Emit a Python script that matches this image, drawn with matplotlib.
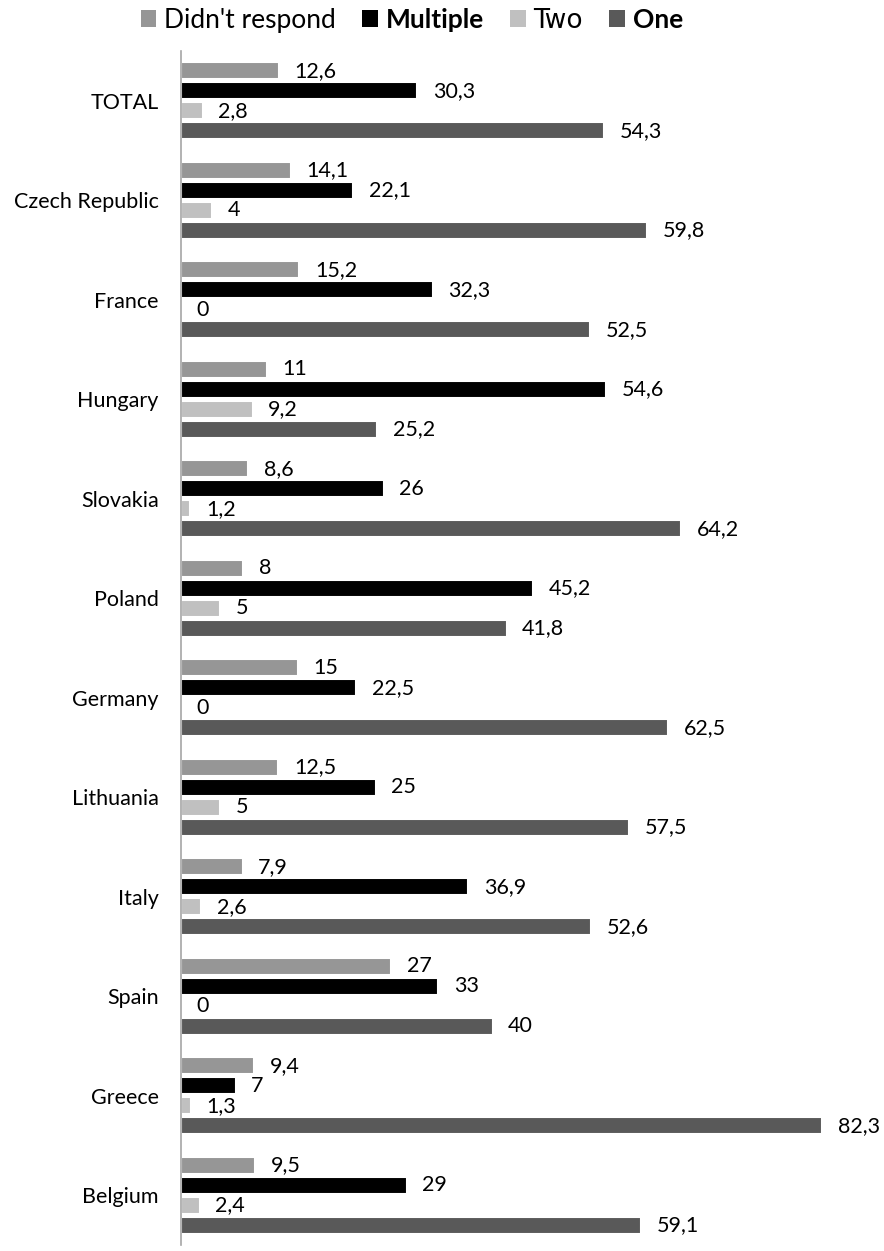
import matplotlib
matplotlib.use("Agg")
import matplotlib.pyplot as plt
from matplotlib.patches import Patch
import numpy as np

plt.rcParams['font.family'] = ['Lato', 'DejaVu Sans']

countries = ["TOTAL", "Czech Republic", "France", "Hungary", "Slovakia", "Poland",
             "Germany", "Lithuania", "Italy", "Spain", "Greece", "Belgium"]
didnt_respond = [12.6, 14.1, 15.2, 11, 8.6, 8, 15, 12.5, 7.9, 27, 9.4, 9.5]
multiple = [30.3, 22.1, 32.3, 54.6, 26, 45.2, 22.5, 25, 36.9, 33, 7, 29]
two = [2.8, 4, 0, 9.2, 1.2, 5, 0, 5, 2.6, 0, 1.3, 2.4]
one = [54.3, 59.8, 52.5, 25.2, 64.2, 41.8, 62.5, 57.5, 52.6, 40, 82.3, 59.1]

series = [("Didn't respond", didnt_respond, "#969696"),
          ("Multiple", multiple, "#000000"),
          ("Two", two, "#c0c0c0"),
          ("One", one, "#595959")]

fig = plt.figure(figsize=(8.84, 12.51), dpi=100)
ax = fig.add_axes([181 / 884, 6 / 1251, 679 / 884, 1194 / 1251])

y = np.arange(len(countries))
offsets = [-0.3, -0.1, 0.1, 0.3]
for (name, vals, col), off in zip(series, offsets):
    ax.barh(y + off, vals, height=0.17, color=col, edgecolor="white", linewidth=1.5)
    for yi, v in zip(y + off, vals):
        lbl = f"{v:g}".replace(".", ",")
        ax.text(v + 2.0, yi, lbl, va="center", ha="left", fontsize=15.5)

ax.set_xlim(0, 679 / 7.79)
ax.set_ylim(len(countries) - 0.5, -0.5)
ax.set_yticks(y)
ax.set_yticklabels(countries, fontsize=15.5)
ax.tick_params(axis="y", length=0, pad=16)
ax.set_xticks([])
for s in ["top", "right", "bottom"]:
    ax.spines[s].set_visible(False)
ax.spines["left"].set_color("#a6a6a6")
ax.spines["left"].set_linewidth(1.2)

handles = [Patch(facecolor=c, edgecolor="none") for _, _, c in series]
leg = fig.legend(handles, [s[0] for s in series], ncol=4, loc="center",
                 bbox_to_anchor=(412 / 884, 1 - 21 / 1251), frameon=False,
                 fontsize=19, handlelength=0.58, handleheight=0.58,
                 handletextpad=0.3, columnspacing=1.0)
texts = leg.get_texts()
texts[1].set_fontweight("bold")
texts[3].set_fontweight("bold")
texts[2].set_family("DejaVu Sans")

fig.savefig("out.png", dpi=100, facecolor="white")
